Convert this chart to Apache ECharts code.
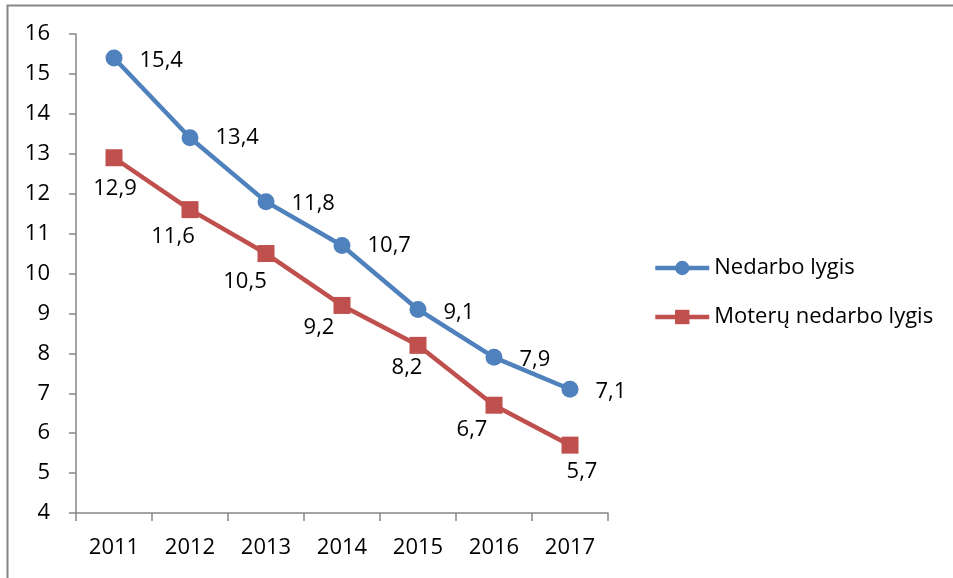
<!DOCTYPE html>
<html><head><meta charset="utf-8">
<script src="https://cdn.jsdelivr.net/npm/echarts@6/dist/echarts.min.js"></script>
<style>html,body{margin:0;padding:0;background:#fff}#c{width:953px;height:578px}</style>
</head><body><div id="c"></div>
<script>
const categories = ['2011','2012','2013','2014','2015','2016','2017'];
const seriesNames = ['Nedarbo lygis','Moterų nedarbo lygis'];
const unemployment = [15.4, 13.4, 11.8, 10.7, 9.1, 7.9, 7.1];
const womenUnemployment = [12.9, 11.6, 10.5, 9.2, 8.2, 6.7, 5.7];
const yTicks = [4,5,6,7,8,9,10,11,12,13,14,15,16];

// label placement styles (not data): offsets of label centre from the point
const redLabelOffsets = [[1,31],[-17,27],[-21,28],[-23,22],[-11,22],[-22,25],[12,27]];
const blueLabelOffsets = [[0,3],[0,0],[0,2],[0,0],[0,3],[0,2],[0,2]];

const fmt = v => String(v).replace('.', ',');
const FONT = '"Open Sans", sans-serif';
const chart = echarts.init(document.getElementById('c'));
chart.setOption({
  animation: false,
  textStyle: {fontFamily: FONT},
  graphic: [{type:'rect', shape:{x:7.5,y:5.5,width:1000,height:700}, style:{fill:'none', stroke:'#868686', lineWidth:2}, silent:true}],
  grid: {left: 76, right: 345, top: 34, bottom: 65},
  legend: {
    orient: 'vertical', left: 648, top: 252, itemWidth: 54, itemHeight: 18, itemGap: 27,
    lineStyle: {width: 4.5},
    textStyle: {fontSize: 22, color: '#000', fontFamily: FONT},
    data: seriesNames
  },
  xAxis: {
    type: 'category', data: categories, boundaryGap: true,
    axisLine: {lineStyle: {color: '#868686', width: 1.5}},
    axisTick: {show: true, length: 8, lineStyle: {color: '#868686', width: 1.5}},
    axisLabel: {color: '#000', fontSize: 22, margin: 24, fontFamily: FONT}
  },
  yAxis: {
    type: 'value', min: yTicks[0], max: yTicks[yTicks.length-1], interval: 1,
    splitLine: {show: false},
    axisLine: {show: true, lineStyle: {color: '#868686', width: 1.5}},
    axisTick: {show: true, length: 7, lineStyle: {color: '#868686', width: 1.5}},
    axisLabel: {color: '#000', fontSize: 22, margin: 26, fontFamily: FONT}
  },
  series: [
    {
      name: seriesNames[0], type: 'line', data: unemployment.map((v,i)=>({value:v, label:{offset: blueLabelOffsets[i]}})),
      symbol: 'circle', symbolSize: 17,
      lineStyle: {color: '#4F81BD', width: 4.5}, itemStyle: {color: '#4F81BD'},
      label: {show: true, position: 'right', distance: 17, fontSize: 22, color: '#000', fontFamily: FONT, formatter: p => fmt(p.value)}
    },
    {
      name: seriesNames[1], type: 'line', data: womenUnemployment.map((v,i)=>({value:v, label:{offset: redLabelOffsets[i]}})),
      symbol: 'rect', symbolSize: 17,
      lineStyle: {color: '#C0504D', width: 4.5}, itemStyle: {color: '#C0504D'},
      label: {show: true, position: 'inside', fontSize: 22, color: '#000', fontFamily: FONT, formatter: p => fmt(p.value)}
    }
  ]
});
</script></body></html>
